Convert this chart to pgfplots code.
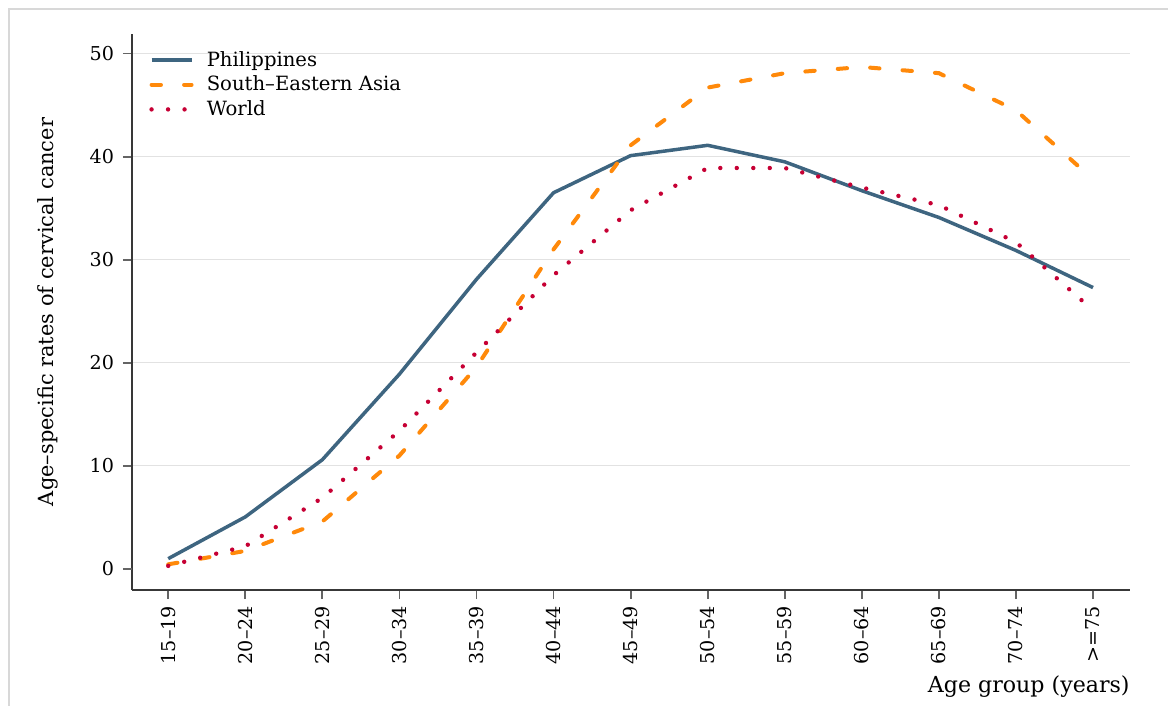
\documentclass[border=0pt]{standalone}
\usepackage{fontspec}
\setmainfont{DejaVu Serif}
\usepackage{pgfplots}
\pgfplotsset{compat=1.18}

\definecolor{phl}{RGB}{62,101,128}
\definecolor{sea}{RGB}{255,137,10}
\definecolor{wld}{RGB}{198,0,52}
\definecolor{framec}{RGB}{216,216,216}
\definecolor{gridc}{RGB}{226,226,226}
\definecolor{axisc}{RGB}{56,56,56}
\definecolor{tickc}{RGB}{100,100,100}

\begin{document}
\begin{tikzpicture}
  % page is 1168x706 px at 0.5bp per px
  \useasboundingbox (0bp,0bp) rectangle (584bp,353bp);
  \draw[framec, line width=1bp] (4.5bp,0bp) -- (4.5bp,348.25bp) -- (584bp,348.25bp);

  \begin{axis}[
    at={(66bp,58bp)}, anchor=south west,
    scale only axis, width=499bp, height=278bp,
    xmin=-0.47, xmax=12.48, ymin=-2.04, ymax=51.9,
    axis x line*=bottom, axis y line*=left,
    axis line style={axisc, line width=0.85bp},
    tick align=outside,
    major tick length=4.5bp,
    tick style={tickc, line width=0.9bp},
    xtick={0,...,12}, ytick={10,20,...,50},
    extra y ticks={0}, extra y tick style={grid=none},
    xticklabels={15–19,20–24,25–29,30–34,35–39,40–44,45–49,50–54,55–59,60–64,65–69,70–74,>=75},
    xticklabel style={rotate=90, anchor=east},
    yticklabel style={xshift=-1bp},
    /pgf/number format/assume math mode=true,
    tick label style={font=\fontsize{9.6}{11}\selectfont},
    ymajorgrids,
    major grid style={gridc, line width=0.5bp},
    ylabel={Age–specific rates of cervical cancer},
    ylabel style={at={(axis description cs:-0.084,0.5)}, anchor=center, font=\fontsize{10.5}{12}\selectfont},
    xlabel={Age group (years)},
    xlabel style={at={(axis description cs:1,-0.1745)}, anchor=east, inner sep=0pt, font=\fontsize{11.1}{13}\selectfont},
    legend cell align=left,
    legend image code/.code={\draw[#1] (0bp,0bp) -- (20bp,0bp);},
    legend style={at={(axis description cs:0.017,0.973)}, anchor=north west,
      draw=none, fill=none, inner sep=0pt, row sep=1.5bp,
      font=\fontsize{9.85}{11}\selectfont,
      nodes={inner sep=0pt, text height=8.3bp, text depth=2.5bp},
      /tikz/every odd column/.append style={column sep=6.5bp}},
  ]
    \addplot[phl, line width=1.75bp, line join=round] coordinates {
      (0,1.0) (1,5.05) (2,10.6) (3,18.9) (4,28.1) (5,36.5) (6,40.1)
      (7,41.1) (8,39.5) (9,36.7) (10,34.1) (11,30.9) (12,27.3)};
    \addlegendentry{Philippines}
    \addplot[sea, line width=2bp, line cap=round, dash pattern=on 4.7bp off 11.55bp] coordinates {
      (0,0.45) (1,1.75) (2,4.6) (3,11.0) (4,19.6) (5,31.0) (6,41.1)
      (7,46.7) (8,48.1) (9,48.7) (10,48.1) (11,44.5) (12,37.8)};
    \addlegendentry{South–Eastern Asia}
    \addplot[wld, line width=2.2bp, line cap=round, dash pattern=on 0bp off 8.25bp] coordinates {
      (0,0.3) (1,2.2) (2,6.9) (3,13.4) (4,21.0) (5,28.5) (6,34.8)
      (7,38.9) (8,38.9) (9,37.0) (10,35.3) (11,31.7) (12,25.1)};
    \addlegendentry{World}
  \end{axis}
\end{tikzpicture}
\end{document}
